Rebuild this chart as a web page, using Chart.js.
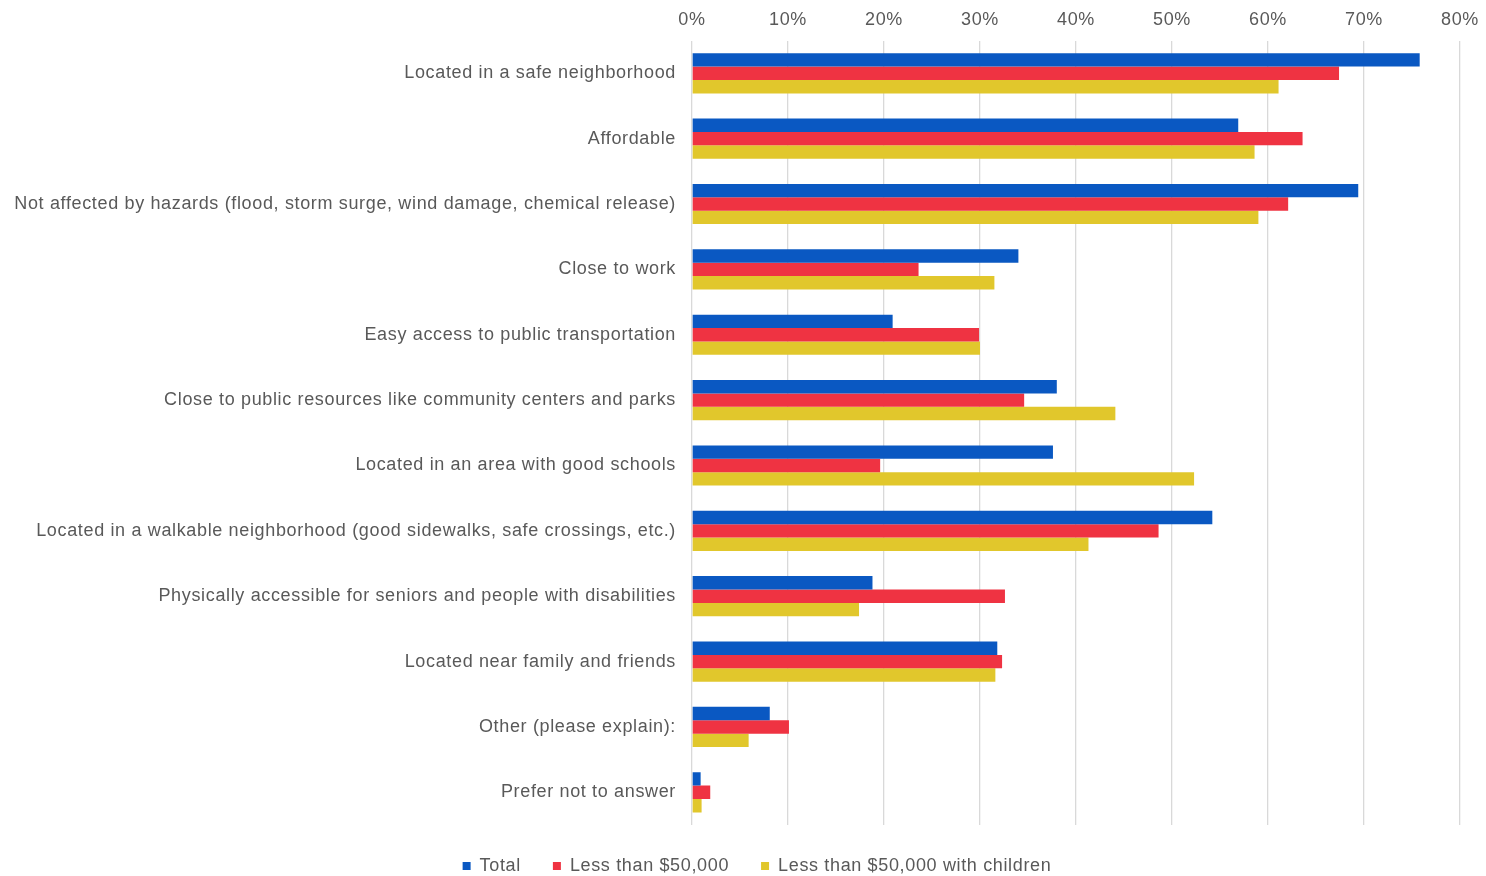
<!DOCTYPE html>
<html>
<head>
<meta charset="utf-8">
<script src="https://cdn.jsdelivr.net/npm/chart.js@4.4.0/dist/chart.umd.min.js"></script>
<style>
html,body{margin:0;padding:0;background:#fff;}
#wrap{width:1486px;height:876px;position:relative;}
</style>
</head>
<body>
<div id="wrap"><canvas id="c"></canvas></div>
<script>
const categories = [
  "Located in a safe neighborhood",
  "Affordable",
  "Not affected by hazards (flood, storm surge, wind damage, chemical release)",
  "Close to work",
  "Easy access to public transportation",
  "Close to public resources like community centers and parks",
  "Located in an area with good schools",
  "Located in a walkable neighborhood (good sidewalks, safe crossings, etc.)",
  "Physically accessible for seniors and people with disabilities",
  "Located near family and friends",
  "Other (please explain):",
  "Prefer not to answer"
];
const seriesNames = ["Total", "Less than $50,000", "Less than $50,000 with children"];
const totalValues = [75.8, 56.9, 69.4, 34.0, 20.9, 38.0, 37.6, 54.2, 18.8, 31.8, 8.1, 0.9];
const under50kValues = [67.4, 63.6, 62.1, 23.6, 29.9, 34.6, 19.6, 48.6, 32.6, 32.3, 10.1, 1.9];
const under50kChildrenValues = [61.1, 58.6, 59.0, 31.5, 30.0, 44.1, 52.3, 41.3, 17.4, 31.6, 5.9, 1.0];
const tickValues = [0, 10, 20, 30, 40, 50, 60, 70, 80];

const colors = ["#0a58c2", "#ef3342", "#e1c72c"];
const FONT = "'Liberation Sans', Arial, sans-serif";
const TXT = "#595959";
const LS = '0.65px';

const spacingPlugin = {
  id: 'spacing',
  beforeUpdate(chart) { chart.ctx.letterSpacing = LS; },
  beforeLayout(chart) { chart.ctx.letterSpacing = LS; },
  afterLayout(chart) {
    if (chart.legend) { chart.legend.left += 27; chart.legend.right += 27; }
  },
  beforeDraw(chart) { chart.ctx.letterSpacing = LS; }
};

new Chart(document.getElementById('c'), {
  type: 'bar',
  plugins: [spacingPlugin],
  data: {
    labels: categories,
    datasets: [
      {label: seriesNames[0], data: totalValues, backgroundColor: colors[0]},
      {label: seriesNames[1], data: under50kValues, backgroundColor: colors[1]},
      {label: seriesNames[2], data: under50kChildrenValues, backgroundColor: colors[2]}
    ]
  },
  options: {
    indexAxis: 'y',
    responsive: true,
    maintainAspectRatio: false,
    animation: false,
    datasets: {bar: {categoryPercentage: 0.615, barPercentage: 1.0}},
    layout: {padding: {left: 0, right: 26, top: -1, bottom: -9}},
    plugins: {
      legend: {
        position: 'bottom',
        labels: {
          boxWidth: 8, boxHeight: 8, color: TXT, padding: 32,
          font: {family: FONT, size: 18}
        }
      },
      tooltip: {enabled: false}
    },
    scales: {
      x: {
        position: 'top',
        min: 0, max: 80,
        afterBuildTicks: (s) => { s.ticks = tickValues.map(v => ({value: v})); },
        afterFit: (s) => { s.paddingRight = 0; s.paddingLeft = 0; },
        ticks: {
          color: TXT, font: {family: FONT, size: 18}, padding: 10,
          callback: (v) => v + '%'
        },
        grid: {color: '#d9d9d9', drawTicks: false, lineWidth: 1.3},
        border: {display: false}
      },
      y: {
        afterFit: (s) => { s.width = 692; },
        ticks: {color: TXT, font: {family: FONT, size: 18}, padding: 16, autoSkip: false},
        grid: {display: false, drawTicks: false},
        border: {display: false}
      }
    }
  }
});
</script>
</body>
</html>
